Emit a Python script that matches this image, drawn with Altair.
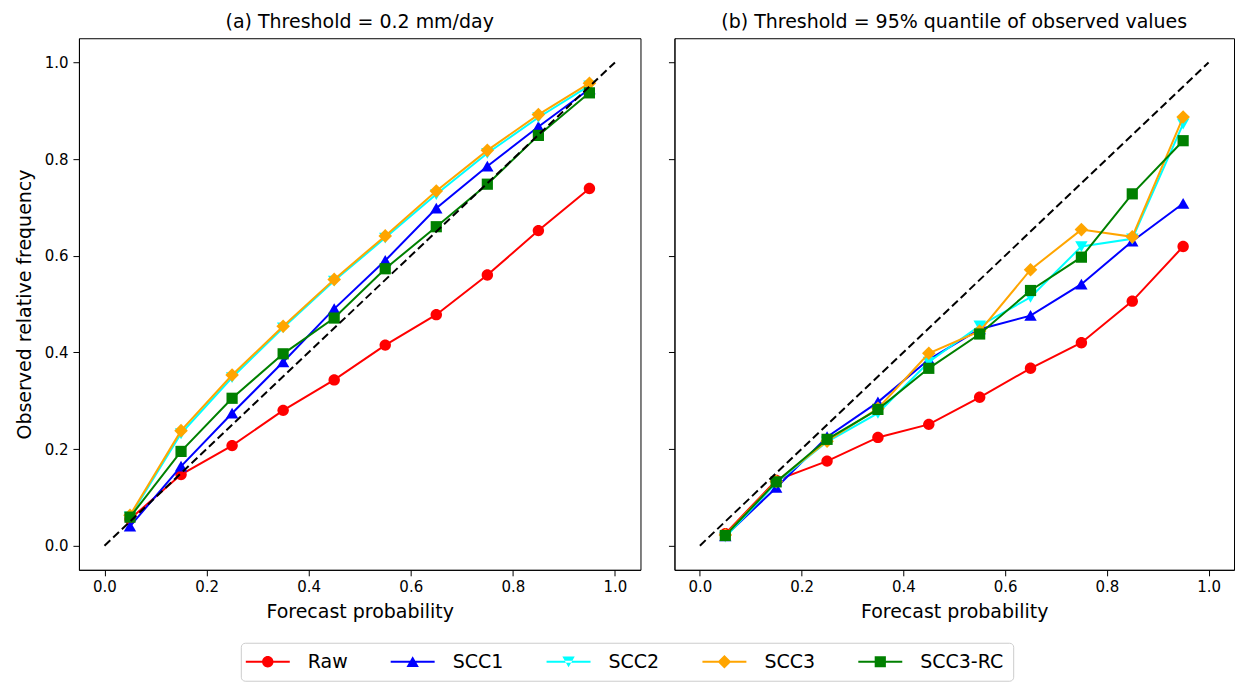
import altair as alt
import pandas as pd

FONT = "DejaVu Sans"

probs = [0.05, 0.15, 0.25, 0.35, 0.45, 0.55, 0.65, 0.75, 0.85, 0.95]
series_names = ["Raw", "SCC1", "SCC2", "SCC3", "SCC3-RC"]
series_colors = ["#ff0000", "#0000ff", "#00ffff", "#ffa500", "#008000"]
marker_paths = [
    "M0.57,0A0.57,0.57,0,1,1,-0.57,0A0.57,0.57,0,1,1,0.57,0Z",
    "M0,-0.56L0.62,0.52L-0.62,0.52Z",
    "M0,0.56L0.62,-0.52L-0.62,-0.52Z",
    "M0,-0.68L0.68,0L0,0.68L-0.68,0Z",
    "M-0.56,-0.56H0.56V0.56H-0.56Z",
]
legend_line_path = "M-2.2,-0.1H2.2V0.1H-2.2Z"
legend_paths = [legend_line_path + " " + m for m in marker_paths]

# Panel (a): Threshold = 0.2 mm/day
a_raw = [0.055, 0.147, 0.207, 0.280, 0.343, 0.415, 0.478, 0.560, 0.652, 0.739]
a_scc1 = [0.040, 0.164, 0.274, 0.380, 0.490, 0.590, 0.698, 0.785, 0.867, 0.945]
a_scc2 = [0.060, 0.232, 0.348, 0.451, 0.548, 0.637, 0.727, 0.812, 0.886, 0.952]
a_scc3 = [0.063, 0.238, 0.353, 0.454, 0.551, 0.641, 0.734, 0.818, 0.892, 0.957]
a_scc3rc = [0.059, 0.195, 0.305, 0.397, 0.471, 0.573, 0.660, 0.748, 0.849, 0.937]

# Panel (b): Threshold = 95% quantile of observed values
b_raw = [0.025, 0.135, 0.175, 0.224, 0.251, 0.307, 0.367, 0.420, 0.506, 0.619]
b_scc1 = [0.020, 0.120, 0.225, 0.297, 0.385, 0.448, 0.476, 0.541, 0.630, 0.708]
b_scc2 = [0.018, 0.130, 0.215, 0.274, 0.380, 0.455, 0.514, 0.619, 0.635, 0.873]
b_scc3 = [0.022, 0.133, 0.216, 0.284, 0.398, 0.444, 0.571, 0.654, 0.639, 0.887]
b_scc3rc = [0.021, 0.132, 0.220, 0.282, 0.367, 0.438, 0.528, 0.597, 0.728, 0.838]

diag_vals = [0.0, 1.0]
tick_vals = [0.0, 0.2, 0.4, 0.6, 0.8, 1.0]

title_a = "(a) Threshold = 0.2 mm/day"
title_b = "(b) Threshold = 95% quantile of observed values"
x_title = "Forecast probability"
y_title = "Observed relative frequency"

# legend position relative to the first panel's plot area
LX = 162
LY = 605


def long_table(series_lists):
    rows = []
    for name, vals in zip(series_names, series_lists):
        for p, v in zip(probs, vals):
            rows.append({"p": p, "freq": v, "series": name})
    return pd.DataFrame(rows)


legend = alt.Legend(
    title=None, orient="none", legendX=LX, legendY=LY, direction="horizontal",
    symbolSize=400, symbolStrokeWidth=0, symbolOffset=8, labelOffset=30,
    columnPadding=43, padding=9, labelFontSize=19, labelFont=FONT,
    labelColor="black", symbolOpacity=1, strokeColor="#cccccc",
    fillColor="white", cornerRadius=4,
)


def panel(df, title, show_y, width):
    xs = alt.Scale(domain=[-0.05, 1.05], nice=False, zero=False)
    ys = alt.Scale(domain=[-0.05, 1.05], nice=False, zero=False)
    x = alt.X("p:Q", scale=xs, axis=alt.Axis(values=tick_vals, format=".1f", title=x_title,
                                             labelPadding=4, titlePadding=8))
    if show_y:
        yaxis = alt.Axis(values=tick_vals, format=".1f", title=y_title, labelPadding=5, titlePadding=10)
    else:
        yaxis = alt.Axis(values=tick_vals, labels=False, title=None)
    y = alt.Y("freq:Q", scale=ys, axis=yaxis)

    base = alt.Chart(df)
    layers = []
    for name, col, shp in zip(series_names, series_colors, marker_paths):
        sub = base.transform_filter(alt.datum.series == name)
        layers.append(sub.mark_line(color=col, strokeWidth=2).encode(x=x, y=y))
        layers.append(sub.mark_point(filled=True, fill=col, shape=shp, size=400, opacity=1,
                                     strokeWidth=0).encode(x=x, y=y))
    # invisible layer that only carries the legend (line + marker symbols)
    legend_layer = base.mark_point(filled=True, opacity=0, size=400).encode(
        x=x, y=y,
        color=alt.Color("series:N", scale=alt.Scale(domain=series_names, range=series_colors),
                        legend=legend),
        shape=alt.Shape("series:N", scale=alt.Scale(domain=series_names, range=legend_paths),
                        legend=legend),
    )
    diag = alt.Chart(pd.DataFrame({"p": diag_vals, "freq": diag_vals})).mark_line(
        color="black", strokeDash=[8, 4], strokeWidth=2
    ).encode(x=x, y=y)
    return alt.layer(legend_layer, *layers, diag).properties(
        width=width, height=532, title=alt.TitleParams(title)
    )


left = panel(long_table([a_raw, a_scc1, a_scc2, a_scc3, a_scc3rc]), title_a, True, 562)
right = panel(long_table([b_raw, b_scc1, b_scc2, b_scc3, b_scc3rc]), title_b, False, 560)

chart = alt.hconcat(left, right, spacing=26).properties(
    padding={"left": 6, "top": 4, "right": 0, "bottom": 0},
    background="white",
).configure_view(
    stroke="black", strokeWidth=1
).configure_axis(
    grid=False, domainColor="black", tickColor="black", labelColor="black",
    titleColor="black", labelFont=FONT, titleFont=FONT, labelFontSize=15,
    titleFontSize=19, titleFontWeight="normal", tickSize=6, domainWidth=1, tickWidth=1,
).configure_title(
    font=FONT, fontSize=19, fontWeight="normal", color="black", offset=6, anchor="middle"
)

chart.save("out.html", embed_options={"renderer": "svg", "actions": False})
